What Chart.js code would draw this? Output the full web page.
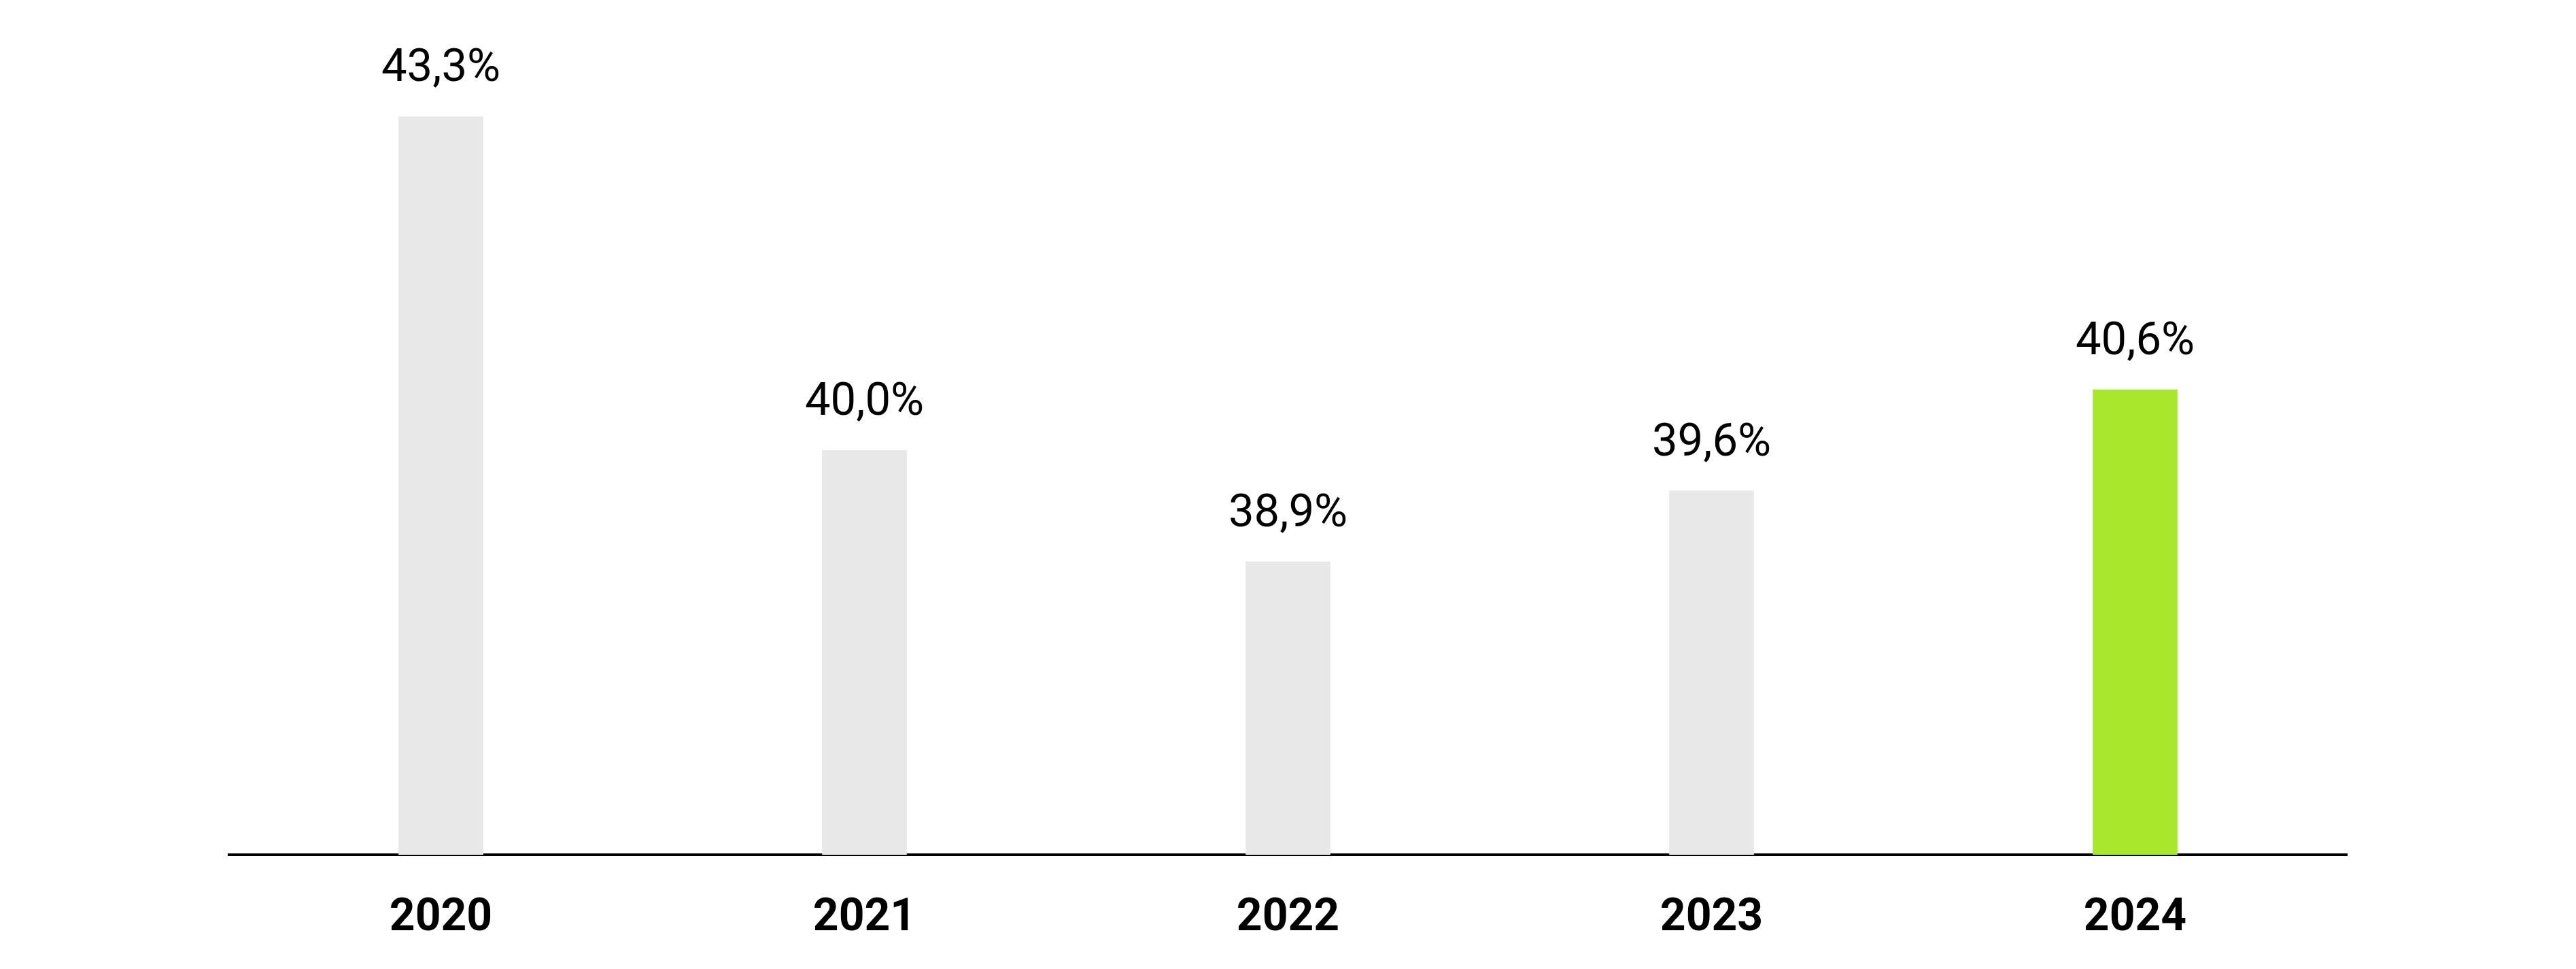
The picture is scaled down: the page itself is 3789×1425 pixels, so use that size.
<!DOCTYPE html>
<html>
<head>
<meta charset="utf-8">
<script src="https://cdn.jsdelivr.net/npm/chart.js@4"></script>
<style>
  html, body { margin: 0; padding: 0; background: #ffffff; }
  canvas { display: block; }
</style>
</head>
<body>
<canvas id="barChart" width="3789" height="1425"></canvas>
<script>
// データ
const years = ['2020', '2021', '2022', '2023', '2024'];
const shares = [43.3, 40.0, 38.9, 39.6, 40.6];
const yMin = 36;
const yMax = 44;

const GRAY = '#e8e8e8';
const GREEN = '#a8e72c';

// 値ラベル（棒の上）
const valueLabels = {
    id: 'valueLabels',
    afterDatasetsDraw(chart) {
        const ctx = chart.ctx;
        const meta = chart.getDatasetMeta(0);
        ctx.save();
        ctx.fillStyle = '#000000';
        ctx.font = '400 67px Roboto';
        ctx.textAlign = 'center';
        ctx.textBaseline = 'alphabetic';
        meta.data.forEach((bar, i) => {
            const txt = shares[i].toFixed(1).replace('.', ',') + '%';
            ctx.fillText(txt, bar.x, bar.y - 52);
        });
        ctx.restore();
    }
};

new Chart(document.getElementById('barChart').getContext('2d'), {
    type: 'bar',
    data: {
        labels: years,
        datasets: [{
            data: shares,
            backgroundColor: (c) => c.dataIndex === shares.length - 1 ? GREEN : GRAY,
            borderWidth: 0,
            barPercentage: 0.2,
            categoryPercentage: 1.0
        }]
    },
    options: {
        responsive: false,
        devicePixelRatio: 1,
        animation: false,
        layout: { padding: { left: 337, right: 337, top: 67, bottom: 0 } },
        plugins: {
            legend: { display: false },
            tooltip: { enabled: false }
        },
        scales: {
            x: {
                grid: { display: false, drawTicks: false },
                border: { display: true, color: '#000000', width: 4 },
                afterFit: (s) => { s.height = 168; },
                ticks: {
                    color: '#000000',
                    padding: 55,
                    font: { family: 'Roboto', size: 66, weight: 'bold' }
                }
            },
            y: {
                display: false,
                min: yMin,
                max: yMax
            }
        }
    },
    plugins: [valueLabels]
});
</script>
</body>
</html>
